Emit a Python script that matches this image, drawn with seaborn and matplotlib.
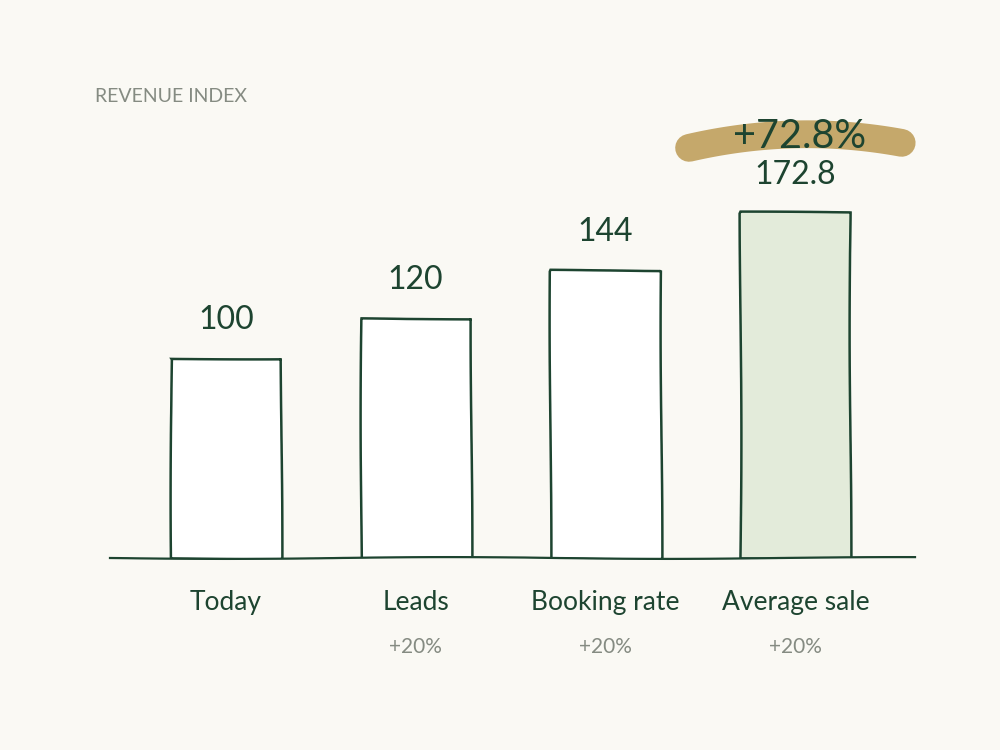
import numpy as np
import pandas as pd
import seaborn as sns
import matplotlib.pyplot as plt

categories = ['Today', 'Leads', 'Booking rate', 'Average sale']
values = [100, 120, 144, 172.8]
value_labels = ['100', '120', '144', '172.8']
step_labels = ['', '+20%', '+20%', '+20%']
total_label = '+72.8%'

bg = '#FAF9F4'
ink = '#1D4430'
grey = '#858B82'
gold = '#C5A86B'
fills = ['#FFFFFF', '#FFFFFF', '#FFFFFF', '#E3EBDA']

sns.set_theme(style='white')
plt.rcParams['font.family'] = ['Lato', 'DejaVu Sans']

df = pd.DataFrame({'step': categories, 'index': values})

fig = plt.figure(figsize=(10, 7.5), dpi=100, facecolor=bg)
ax = fig.add_axes([0.11, 0.256, 0.805, 0.5867])
ax.set_facecolor(bg)

sns.barplot(data=df, x='step', y='index', hue='step', palette=fills, legend=False,
            width=0.58, edgecolor=ink, linewidth=1.8, saturation=1, ax=ax)

# gentle hand-drawn wobble on the outlines
for p in ax.patches:
    p.set_sketch_params(scale=0.9, length=500, randomness=2)

ax.set_xlim(-0.61, 3.63)
ax.set_ylim(0, 220)
ax.set_xlabel('')
ax.set_ylabel('')
ax.set_yticks([])
ax.set_xticks([])
for s in ['left', 'right', 'top']:
    ax.spines[s].set_visible(False)
ax.spines['bottom'].set_color(ink)
ax.spines['bottom'].set_linewidth(1.6)
ax.spines['bottom'].set_sketch_params(scale=0.9, length=500, randomness=2)

# value labels above bars
for i, (v, lab) in enumerate(zip(values, value_labels)):
    ax.annotate(lab, xy=(i, v), xytext=(0, 27), textcoords='offset points',
                ha='center', va='center', fontsize=23, color=ink)

# category names and step changes under the axis
for i, (cat, st) in enumerate(zip(categories, step_labels)):
    ax.annotate(cat, xy=(i, 0), xytext=(0, -32), textcoords='offset points',
                ha='center', va='center', fontsize=19, color=ink, annotation_clip=False)
    if st:
        ax.annotate(st, xy=(i, 0), xytext=(0, -64), textcoords='offset points',
                    ha='center', va='center', fontsize=15, color=grey, annotation_clip=False)

# brush highlight behind the total change
last = len(values) - 1
top = values[last] + 38
t = np.linspace(-1, 1, 60)
bx = last + 0.56 * t
by = top + 1.0 - 5.5 * t ** 2 + 1.25 * t
ax.plot(bx, by, color=gold, lw=20, solid_capstyle='round', clip_on=False, zorder=3)
ax.text(last + 0.02, top, total_label, ha='center', va='center', fontsize=28.5,
        color=ink, zorder=4, clip_on=False)

fig.text(0.095, 0.871, 'REVENUE INDEX', ha='left', va='center', fontsize=14, color=grey)

fig.savefig('out.png', dpi=100, facecolor=bg)
